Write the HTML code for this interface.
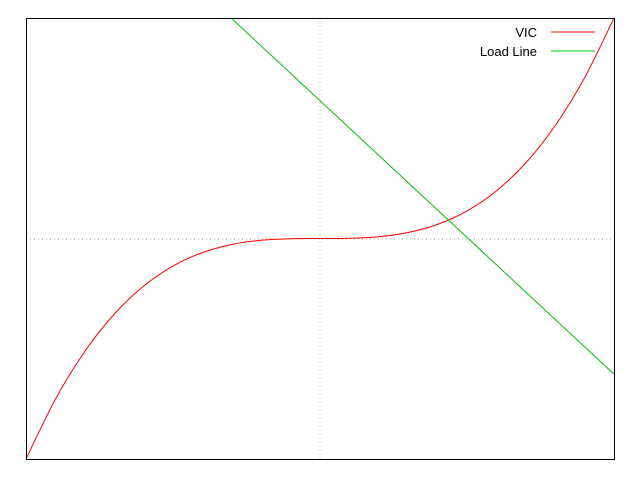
<!DOCTYPE html>
<html><head><meta charset="utf-8"><style>
html,body{margin:0;padding:0;background:#fff;}
svg{display:block;font-family:"Liberation Sans",sans-serif;}
</style></head><body>
<svg id="chart" width="640" height="480">
<rect x="0" y="0" width="640" height="480" fill="#fff"/>
<line x1="320" y1="18" x2="320" y2="459" stroke="#a0a0a0" stroke-dasharray="1,3"/>
<line x1="26" y1="239" x2="614" y2="239" stroke="#a0a0a0" stroke-dasharray="1,3"/>
<path id="vic" fill="none" stroke="#ff0000" stroke-width="1"/>
<path id="load" fill="none" stroke="#00c000" stroke-width="1"/>
<rect x="26.5" y="18.5" width="588" height="441" fill="none" stroke="#000"/>
<g>
<text x="537" y="37" text-anchor="end" font-size="13" fill="#000">VIC</text>
<line x1="551" y1="32" x2="595" y2="32" stroke="#ff0000"/>
<text x="537" y="56" text-anchor="end" font-size="13" fill="#000">Load Line</text>
<line x1="551" y1="51" x2="595" y2="51" stroke="#00c000"/>
</g>
</svg>
<script>
const vicX = [-1,-0.9,-0.8,-0.7,-0.6,-0.5,-0.4,-0.3,-0.2,-0.1,0,0.1,0.2,0.3,0.4,0.5,0.6,0.7,0.8,0.9,1];
const vicY = [-1,-0.729,-0.512,-0.343,-0.216,-0.125,-0.064,-0.027,-0.008,-0.001,0,0.001,0.008,0.027,0.064,0.125,0.216,0.343,0.512,0.729,1];
const loadX = [-0.3, 1];
const loadY = [0.997, -0.615];
const xMin=-1,xMax=1,yMin=-1,yMax=1;
const L=26,R=614,T=18,B=459;
function sx(v){return L+(v-xMin)/(xMax-xMin)*(R-L);}
function sy(v){return B-(v-yMin)/(yMax-yMin)*(B-T);}
function pathFrom(xs,ys){return xs.map((x,i)=>(i?'L':'M')+sx(x).toFixed(2)+' '+sy(ys[i]).toFixed(2)).join(' ');}
// smooth VIC with Catmull-Rom through data points
function smooth(xs,ys){
  const p=xs.map((x,i)=>[sx(x),sy(ys[i])]);
  let d='M'+p[0][0]+' '+p[0][1];
  for(let i=0;i<p.length-1;i++){
    const p0=p[Math.max(i-1,0)],p1=p[i],p2=p[i+1],p3=p[Math.min(i+2,p.length-1)];
    const c1=[p1[0]+(p2[0]-p0[0])/6,p1[1]+(p2[1]-p0[1])/6];
    const c2=[p2[0]-(p3[0]-p1[0])/6,p2[1]-(p3[1]-p1[1])/6];
    d+=' C'+c1.join(' ')+' '+c2.join(' ')+' '+p2.join(' ');
  }
  return d;
}
document.getElementById('vic').setAttribute('d',smooth(vicX,vicY));
document.getElementById('load').setAttribute('d',pathFrom(loadX,loadY));
</script>
</body></html>
